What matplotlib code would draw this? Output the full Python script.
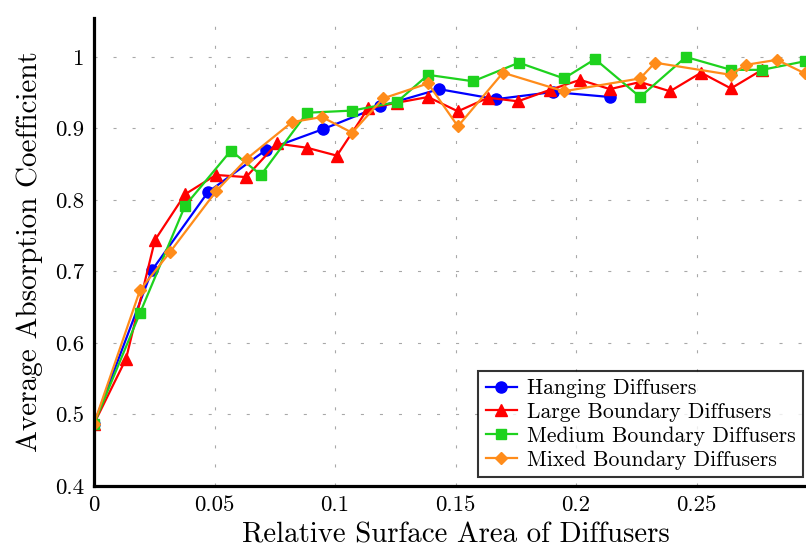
import matplotlib
matplotlib.use("Agg")
import matplotlib.pyplot as plt
from matplotlib.ticker import FuncFormatter

plt.rcParams['font.family'] = ['cmr10', 'DejaVu Serif']
plt.rcParams['axes.formatter.use_mathtext'] = True
plt.rcParams['lines.scale_dashes'] = False

# ---- data ----
hang_x = [0, 0.0241, 0.0473, 0.0714, 0.0950, 0.1187, 0.1432, 0.1668, 0.1905, 0.2141]
hang_y = [0.487, 0.702, 0.811, 0.870, 0.899, 0.931, 0.955, 0.941, 0.951, 0.944]

large_x = [0, 0.0133, 0.0253, 0.0378, 0.0506, 0.0631, 0.0759, 0.0884, 0.1008, 0.1137,
           0.1257, 0.1386, 0.1510, 0.1635, 0.1759, 0.1892, 0.2017, 0.2141, 0.2266,
           0.2390, 0.2519, 0.2643, 0.2772]
large_y = [0.487, 0.578, 0.744, 0.808, 0.835, 0.832, 0.879, 0.873, 0.862, 0.928,
           0.936, 0.944, 0.924, 0.943, 0.938, 0.954, 0.968, 0.955, 0.965,
           0.952, 0.978, 0.956, 0.982]

medium_x = [0, 0.0191, 0.0378, 0.0568, 0.0693, 0.0884, 0.1071, 0.1257, 0.1386, 0.1573,
            0.1763, 0.1950, 0.2079, 0.2266, 0.2456, 0.2643, 0.2772, 0.2950]
medium_y = [0.487, 0.642, 0.792, 0.869, 0.835, 0.922, 0.925, 0.937, 0.975, 0.966,
            0.992, 0.970, 0.997, 0.944, 1.000, 0.982, 0.982, 0.994]

mixed_x = [0, 0.0191, 0.0315, 0.0506, 0.0635, 0.0822, 0.0946, 0.1071, 0.1199, 0.1386,
           0.1510, 0.1697, 0.1950, 0.2266, 0.2328, 0.2643, 0.2705, 0.2834, 0.2950]
mixed_y = [0.487, 0.674, 0.727, 0.812, 0.858, 0.909, 0.916, 0.894, 0.942, 0.963,
           0.903, 0.978, 0.952, 0.970, 0.992, 0.975, 0.989, 0.996, 0.977]

series_labels = ["Hanging Diffusers", "Large Boundary Diffusers",
                 "Medium Boundary Diffusers", "Mixed Boundary Diffusers"]
x_ticks = [0, 0.05, 0.1, 0.15, 0.2, 0.25]
y_ticks = [0.4, 0.5, 0.6, 0.7, 0.8, 0.9, 1.0]

W, H = 806, 549
fig = plt.figure(figsize=(W / 100, H / 100), dpi=100)
left_px, right_px, top_px, bot_px = 94, 817, 18, 486
ax = fig.add_axes([left_px / W, 1 - bot_px / H, (right_px - left_px) / W, (bot_px - top_px) / H])

ax.set_xlim(0, 0.3)
ax.set_ylim(0.4, 1.0545)

ax.plot(hang_x, hang_y, color='#0000ff', lw=1.6, marker='o', ms=8, label=series_labels[0])
ax.plot(large_x, large_y, color='#ff0000', lw=1.6, marker='^', ms=8.5, label=series_labels[1])
ax.plot(medium_x, medium_y, color='#1ed21e', lw=1.6, marker='s', ms=7, label=series_labels[2])
ax.plot(mixed_x, mixed_y, color='#ff8c1a', lw=1.6, marker='D', ms=6.5, label=series_labels[3])

ax.set_xticks(x_ticks)
ax.set_yticks(y_ticks)
fmt = FuncFormatter(lambda v, p: ('%g' % round(v, 3)))
ax.xaxis.set_major_formatter(fmt)
ax.yaxis.set_major_formatter(fmt)
ax.tick_params(length=0, labelsize=16.5, pad=7)

ax.grid(True, color='#a8a8a8', lw=0.8, linestyle=(0, (2.2, 11.5)))
ax.set_axisbelow(True)

for s in ['top', 'right']:
    ax.spines[s].set_visible(False)
for s in ['left', 'bottom']:
    ax.spines[s].set_linewidth(2.3)
    ax.spines[s].set_color('black')

ax.set_xlabel("Relative Surface Area of Diffusers", fontsize=20.8, labelpad=5)
ax.set_ylabel("Average Absorption Coefficient", fontsize=21, labelpad=9)

leg = ax.legend(loc='upper left', bbox_to_anchor=(478 / W, 1 - 371 / H),
                bbox_transform=fig.transFigure, borderaxespad=0,
                fontsize=15.6, frameon=True, fancybox=False, edgecolor='black',
                handlelength=1.45, handletextpad=0.45, labelspacing=0.2,
                borderpad=0.35)
leg.get_frame().set_linewidth(1.5)

fig.savefig("out.png", dpi=100)
